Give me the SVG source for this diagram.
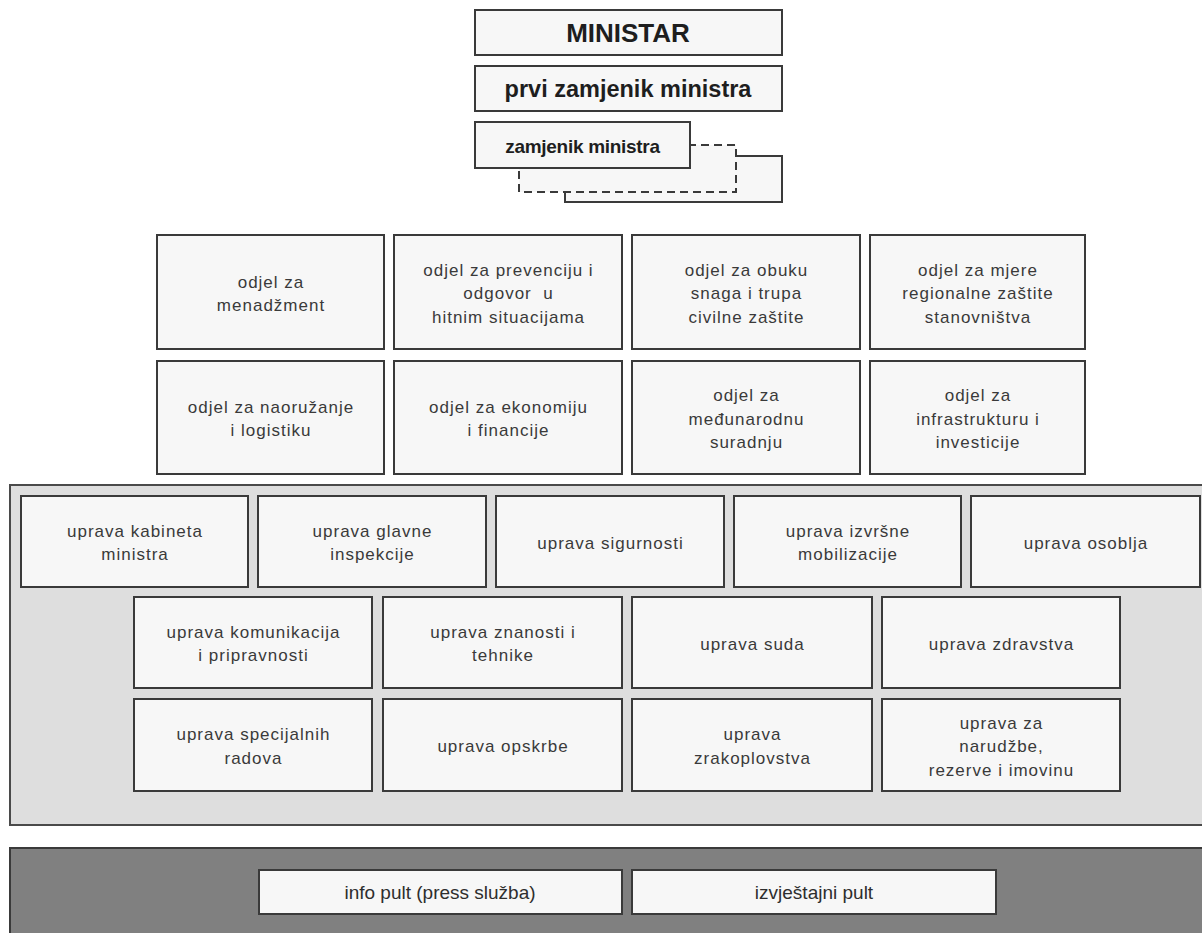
<svg xmlns="http://www.w3.org/2000/svg" width="1202" height="933" viewBox="0 0 1202 933">
<style>
.bg{fill:#ffffff}
.box{fill:#f7f7f7;stroke:#3a3a3a;stroke-width:2}
.dash{fill:#f7f7f7;stroke:#3a3a3a;stroke-width:2;stroke-dasharray:8 5}
.panel{fill:#dedede;stroke:#4a4a4a;stroke-width:2}
.dark{fill:#808080;stroke:#3a3a3a;stroke-width:2}
.t{font-family:"Liberation Sans",Arial,sans-serif;font-size:17px;letter-spacing:1px;fill:#3a3a3a;text-anchor:middle}
.tb{font-family:"Liberation Sans",Arial,sans-serif;font-weight:bold;fill:#1e1e1e;text-anchor:middle}
.tn{font-family:"Liberation Sans",Arial,sans-serif;font-size:19px;fill:#2e2e2e;text-anchor:middle}
</style>
<rect class="bg" x="0" y="0" width="1202" height="933"/>

<!-- top -->
<g id="ministar">
<rect class="box" x="475" y="10" width="307" height="45"/>
<text class="tb" x="628" y="42" font-size="26">MINISTAR</text>
</g>
<g id="prvi-zamjenik">
<rect class="box" x="475" y="66" width="307" height="45"/>
<text class="tb" x="628" y="96.5" font-size="23.5">prvi zamjenik ministra</text>
</g>
<g id="zamjenik">
<rect class="box" x="565" y="156" width="217" height="46"/>
<rect class="dash" x="519" y="145" width="217" height="47"/>
<rect class="box" x="475" y="122" width="215" height="46"/>
<text class="tb" x="582.5" y="152.5" font-size="19" letter-spacing="-0.3">zamjenik ministra</text>
</g>

<!-- odjel row 1 -->
<g id="odjel-menadzment">
<rect class="box" x="157" y="235" width="227" height="114"/>
<text class="t" x="271" y="287.5">odjel za</text>
<text class="t" x="271" y="311">menadžment</text>
</g>
<g id="odjel-prevencija">
<rect class="box" x="394" y="235" width="228" height="114"/>
<text class="t" x="508.5" y="275.5">odjel za prevenciju i</text>
<text class="t" x="508.5" y="299" xml:space="preserve">odgovor  u</text>
<text class="t" x="508.5" y="322.5">hitnim situacijama</text>
</g>
<g id="odjel-obuka">
<rect class="box" x="632" y="235" width="228" height="114"/>
<text class="t" x="746.5" y="275.5">odjel za obuku</text>
<text class="t" x="746.5" y="299">snaga i trupa</text>
<text class="t" x="746.5" y="322.5">civilne zaštite</text>
</g>
<g id="odjel-mjere">
<rect class="box" x="870" y="235" width="215" height="114"/>
<text class="t" x="978" y="275.5">odjel za mjere</text>
<text class="t" x="978" y="299">regionalne zaštite</text>
<text class="t" x="978" y="322.5">stanovništva</text>
</g>

<!-- odjel row 2 -->
<g id="odjel-naoruzanje">
<rect class="box" x="157" y="361" width="227" height="113"/>
<text class="t" x="271" y="412.75">odjel za naoružanje</text>
<text class="t" x="271" y="436.25">i logistiku</text>
</g>
<g id="odjel-ekonomija">
<rect class="box" x="394" y="361" width="228" height="113"/>
<text class="t" x="508.5" y="412.75">odjel za ekonomiju</text>
<text class="t" x="508.5" y="436.25">i financije</text>
</g>
<g id="odjel-medunarodna">
<rect class="box" x="632" y="361" width="228" height="113"/>
<text class="t" x="746.5" y="401">odjel za</text>
<text class="t" x="746.5" y="424.5">međunarodnu</text>
<text class="t" x="746.5" y="448">suradnju</text>
</g>
<g id="odjel-infrastruktura">
<rect class="box" x="870" y="361" width="215" height="113"/>
<text class="t" x="978" y="401">odjel za</text>
<text class="t" x="978" y="424.5">infrastrukturu i</text>
<text class="t" x="978" y="448">investicije</text>
</g>

<!-- uprava panel -->
<g id="uprave-panel">
<rect class="panel" x="10" y="485" width="1200" height="340"/>
</g>
<g id="uprava-kabineta">
<rect class="box" x="21" y="496" width="227" height="91"/>
<text class="t" x="135" y="536.75">uprava kabineta</text>
<text class="t" x="135" y="560.25">ministra</text>
</g>
<g id="uprava-glavne-inspekcije">
<rect class="box" x="258" y="496" width="228" height="91"/>
<text class="t" x="372.5" y="536.75">uprava glavne</text>
<text class="t" x="372.5" y="560.25">inspekcije</text>
</g>
<g id="uprava-sigurnosti">
<rect class="box" x="496" y="496" width="228" height="91"/>
<text class="t" x="610.5" y="548.5">uprava sigurnosti</text>
</g>
<g id="uprava-izvrsne-mobilizacije">
<rect class="box" x="734" y="496" width="227" height="91"/>
<text class="t" x="848" y="536.75">uprava izvršne</text>
<text class="t" x="848" y="560.25">mobilizacije</text>
</g>
<g id="uprava-osoblja">
<rect class="box" x="971" y="496" width="229" height="91"/>
<text class="t" x="1086" y="548.5">uprava osoblja</text>
</g>

<g id="uprava-komunikacija">
<rect class="box" x="134" y="597" width="238" height="91"/>
<text class="t" x="253.5" y="637.75">uprava komunikacija</text>
<text class="t" x="253.5" y="661.25">i pripravnosti</text>
</g>
<g id="uprava-znanosti">
<rect class="box" x="383" y="597" width="239" height="91"/>
<text class="t" x="503" y="637.75">uprava znanosti i</text>
<text class="t" x="503" y="661.25">tehnike</text>
</g>
<g id="uprava-suda">
<rect class="box" x="632" y="597" width="240" height="91"/>
<text class="t" x="752.5" y="649.5">uprava suda</text>
</g>
<g id="uprava-zdravstva">
<rect class="box" x="882" y="597" width="238" height="91"/>
<text class="t" x="1001.5" y="649.5">uprava zdravstva</text>
</g>

<g id="uprava-specijalnih-radova">
<rect class="box" x="134" y="699" width="238" height="92"/>
<text class="t" x="253.5" y="740.25">uprava specijalnih</text>
<text class="t" x="253.5" y="763.75">radova</text>
</g>
<g id="uprava-opskrbe">
<rect class="box" x="383" y="699" width="239" height="92"/>
<text class="t" x="503" y="752">uprava opskrbe</text>
</g>
<g id="uprava-zrakoplovstva">
<rect class="box" x="632" y="699" width="240" height="92"/>
<text class="t" x="752.5" y="740.25">uprava</text>
<text class="t" x="752.5" y="763.75">zrakoplovstva</text>
</g>
<g id="uprava-narudzbe">
<rect class="box" x="882" y="699" width="238" height="92"/>
<text class="t" x="1001.5" y="728.5">uprava za</text>
<text class="t" x="1001.5" y="752">narudžbe,</text>
<text class="t" x="1001.5" y="775.5">rezerve i imovinu</text>
</g>

<!-- bottom -->
<g id="bottom-panel">
<rect class="dark" x="10" y="848" width="1200" height="95"/>
</g>
<g id="info-pult">
<rect class="box" x="259" y="870" width="363" height="44"/>
<text class="tn" x="440" y="899">info pult (press služba)</text>
</g>
<g id="izvjestajni-pult">
<rect class="box" x="632" y="870" width="364" height="44"/>
<text class="tn" x="814" y="899">izvještajni pult</text>
</g>
</svg>
